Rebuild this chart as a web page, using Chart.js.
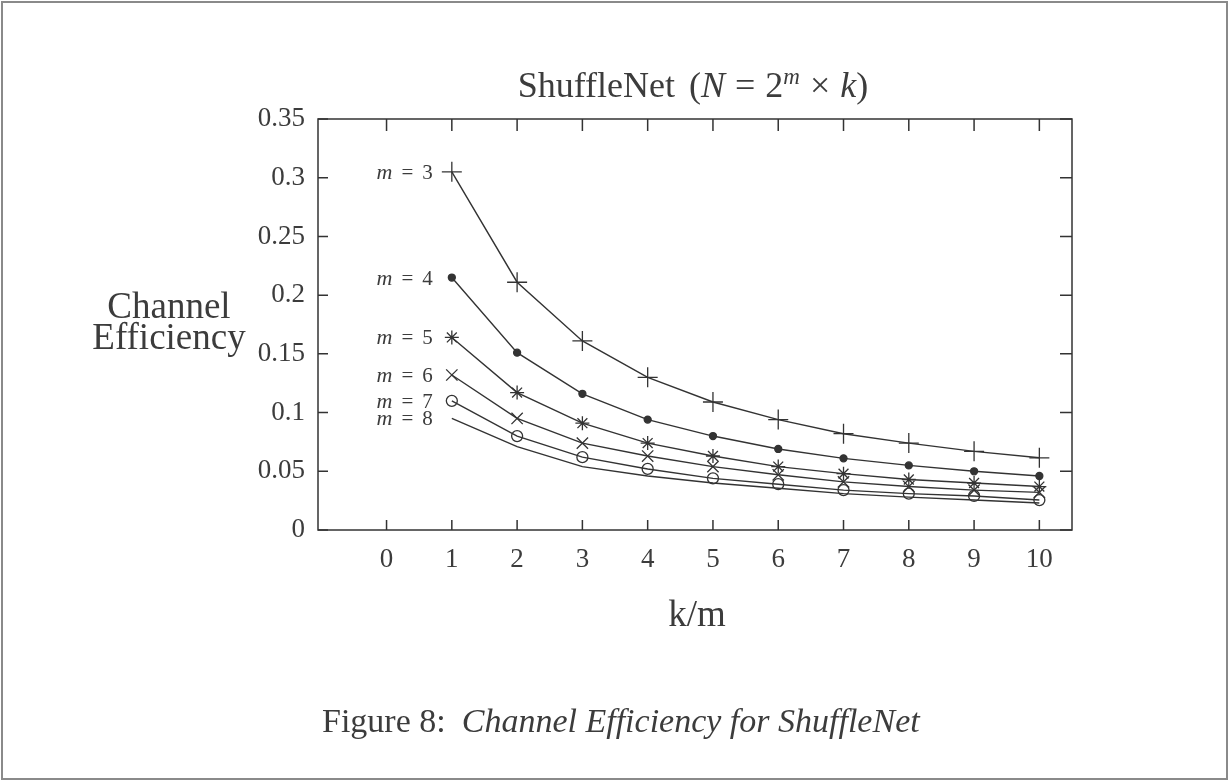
<!DOCTYPE html>
<html>
<head>
<meta charset="utf-8">
<script src="https://cdn.jsdelivr.net/npm/chart.js@4.4.1/dist/chart.umd.min.js"></script>
<style>
  html, body { margin: 0; padding: 0; background: #fff; overflow: hidden; }
  #wrap { position: relative; width: 1229px; height: 781px; }
</style>
</head>
<body>
<div id="wrap"><canvas id="c" width="1229" height="781"></canvas></div>
<script>
// ---- data ----
const kOverM = [1, 2, 3, 4, 5, 6, 7, 8, 9, 10];
const m3 = [0.305, 0.211, 0.161, 0.130, 0.109, 0.094, 0.082, 0.074, 0.067, 0.0615];
const m4 = [0.215, 0.151, 0.116, 0.094, 0.080, 0.069, 0.061, 0.055, 0.050, 0.046];
const m5 = [0.164, 0.117, 0.091, 0.074, 0.063, 0.054, 0.048, 0.043, 0.040, 0.037];
const m6 = [0.132, 0.095, 0.074, 0.063, 0.054, 0.047, 0.041, 0.037, 0.034, 0.032];
const m7 = [0.110, 0.080, 0.062, 0.052, 0.044, 0.039, 0.034, 0.031, 0.029, 0.0255];
const m8 = [0.095, 0.071, 0.054, 0.046, 0.040, 0.0355, 0.031, 0.028, 0.0255, 0.023];
const seriesLabels = ['m = 3', 'm = 4', 'm = 5', 'm = 6', 'm = 7', 'm = 8'];
const xTicks = [0, 1, 2, 3, 4, 5, 6, 7, 8, 9, 10];
const yTicks = [0, 0.05, 0.1, 0.15, 0.2, 0.25, 0.3, 0.35];
const yTickLabels = ['0', '0.05', '0.1', '0.15', '0.2', '0.25', '0.3', '0.35'];

const seriesValues = [m3, m4, m5, m6, m7, m8];
const INK = '#333';
const TXT = '#3c3c3c';
const SERIF = '"Liberation Serif", "Times New Roman", serif';

const markerStyles = [
  { pointStyle: 'cross', radius: 10, fill: 'rgba(0,0,0,0)' },
  { pointStyle: 'circle', radius: 3.5, fill: INK },
  { pointStyle: 'star', radius: 7, fill: 'rgba(0,0,0,0)' },
  { pointStyle: 'crossRot', radius: 8, fill: 'rgba(0,0,0,0)' },
  { pointStyle: 'circle', radius: 5.5, fill: 'rgba(0,0,0,0)' },
  { pointStyle: 'circle', radius: 0, fill: 'rgba(0,0,0,0)' }
];

const datasets = seriesValues.map((vals, i) => ({
  label: seriesLabels[i],
  data: vals.map((v, j) => ({ x: kOverM[j], y: v })),
  borderColor: INK,
  borderWidth: 1.4,
  backgroundColor: markerStyles[i].fill,
  pointStyle: markerStyles[i].pointStyle,
  pointRadius: markerStyles[i].radius,
  pointBorderColor: INK,
  pointBackgroundColor: markerStyles[i].fill,
  pointBorderWidth: 1.3,
  tension: 0,
  fill: false
}));

function drawParts(ctx, parts, cx, baseline, align) {
  let total = 0;
  parts.forEach(p => { ctx.font = p.font; total += ctx.measureText(p.text).width + (p.gap || 0); });
  let x = align === 'right' ? cx - total : (align === 'left' ? cx : cx - total / 2);
  ctx.textAlign = 'left';
  ctx.textBaseline = 'alphabetic';
  parts.forEach(p => {
    ctx.font = p.font;
    x += (p.gap || 0);
    ctx.fillText(p.text, x, baseline + (p.dy || 0));
    x += ctx.measureText(p.text).width;
  });
}

const decor = {
  id: 'decor',
  beforeDraw(chart) {
    const ctx = chart.ctx;
    ctx.save();
    ctx.fillStyle = '#fff';
    ctx.fillRect(0, 0, chart.width, chart.height);
    ctx.strokeStyle = '#8a8a8a';
    ctx.lineWidth = 2;
    ctx.strokeRect(2, 2, chart.width - 4, chart.height - 4);
    ctx.restore();
  },
  afterDraw(chart) {
    const ctx = chart.ctx;
    const a = chart.chartArea;
    const xs = chart.scales.x, ys = chart.scales.y;
    ctx.save();
    ctx.strokeStyle = INK;
    ctx.lineWidth = 1.5;
    ctx.strokeRect(a.left, a.top, a.right - a.left, a.bottom - a.top);
    ctx.beginPath();
    xTicks.forEach(v => {
      const px = xs.getPixelForValue(v);
      ctx.moveTo(px, a.bottom); ctx.lineTo(px, a.bottom - 10);
      ctx.moveTo(px, a.top); ctx.lineTo(px, a.top + 12);
    });
    yTicks.forEach(v => {
      const py = ys.getPixelForValue(v);
      ctx.moveTo(a.left, py); ctx.lineTo(a.left + 10, py);
      ctx.moveTo(a.right, py); ctx.lineTo(a.right - 12, py);
    });
    ctx.stroke();

    ctx.fillStyle = TXT;
    // title
    const cx = (a.left + a.right) / 2 - 2;
    drawParts(ctx, [
      { text: 'ShuffleNet', font: '36px ' + SERIF },
      { text: '(', font: '36px ' + SERIF, gap: 14 },
      { text: 'N', font: 'italic 36px ' + SERIF },
      { text: '=', font: '36px ' + SERIF, gap: 10 },
      { text: '2', font: '36px ' + SERIF, gap: 10 },
      { text: 'm', font: 'italic 23px ' + SERIF, dy: -13 },
      { text: '×', font: '36px ' + SERIF, gap: 10 },
      { text: 'k', font: 'italic 36px ' + SERIF, gap: 10 },
      { text: ')', font: '36px ' + SERIF }
    ], cx, 97, 'center');

    // y-axis label (horizontal, two lines)
    ctx.font = '37px ' + SERIF;
    ctx.textAlign = 'center';
    ctx.textBaseline = 'middle';
    ctx.fillText('Channel', 169, 308);
    ctx.fillText('Efficiency', 169, 339);

    // x-axis label
    ctx.font = '37px ' + SERIF;
    ctx.fillText('k/m', cx + 4, 616);

    // caption
    drawParts(ctx, [
      { text: 'Figure 8:', font: '34px ' + SERIF },
      { text: 'Channel Efficiency for ShuffleNet', font: 'italic 34px ' + SERIF, gap: 16 }
    ], 322, 732, 'left');

    // series labels next to first points
    chart.data.datasets.forEach((ds, i) => {
      const meta = chart.getDatasetMeta(i);
      const pt = meta.data[0];
      const lbl = seriesLabels[i];
      const parts = lbl.split(' ');
      drawParts(ctx, [
        { text: parts[0], font: 'italic 22px ' + SERIF },
        { text: parts[1], font: '21px ' + SERIF, gap: 9 },
        { text: parts[2], font: '21px ' + SERIF, gap: 9 }
      ], pt.x - 19, pt.y + 7, 'right');
    });
    ctx.restore();
  }
};

new Chart(document.getElementById('c'), {
  type: 'line',
  data: { datasets },
  options: {
    responsive: true,
    maintainAspectRatio: false,
    animation: false,
    layout: { padding: { left: 0, right: 157, top: 119, bottom: 191 } },
    plugins: { legend: { display: false }, title: { display: false }, tooltip: { enabled: false } },
    scales: {
      x: {
        type: 'linear',
        min: -1.05,
        max: 10.5,
        afterBuildTicks: s => { s.ticks = xTicks.map(v => ({ value: v })); },
        afterFit: s => { s.height = 60; },
        grid: { display: false, drawTicks: false },
        border: { display: false },
        ticks: {
          color: TXT,
          font: { family: SERIF, size: 27 },
          padding: 14,
          maxRotation: 0,
          autoSkip: false,
          callback: v => String(v)
        }
      },
      y: {
        type: 'linear',
        min: 0,
        max: 0.35,
        afterBuildTicks: s => { s.ticks = yTicks.map(v => ({ value: v })); },
        afterFit: s => { s.width = 318; },
        grid: { display: false, drawTicks: false },
        border: { display: false },
        ticks: {
          color: TXT,
          font: { family: SERIF, size: 27 },
          padding: 13,
          autoSkip: false,
          callback: (v) => { const i = yTicks.findIndex(t => Math.abs(t - v) < 1e-9); return i >= 0 ? yTickLabels[i] : ''; }
        }
      }
    }
  },
  plugins: [decor]
});
</script>
</body>
</html>
